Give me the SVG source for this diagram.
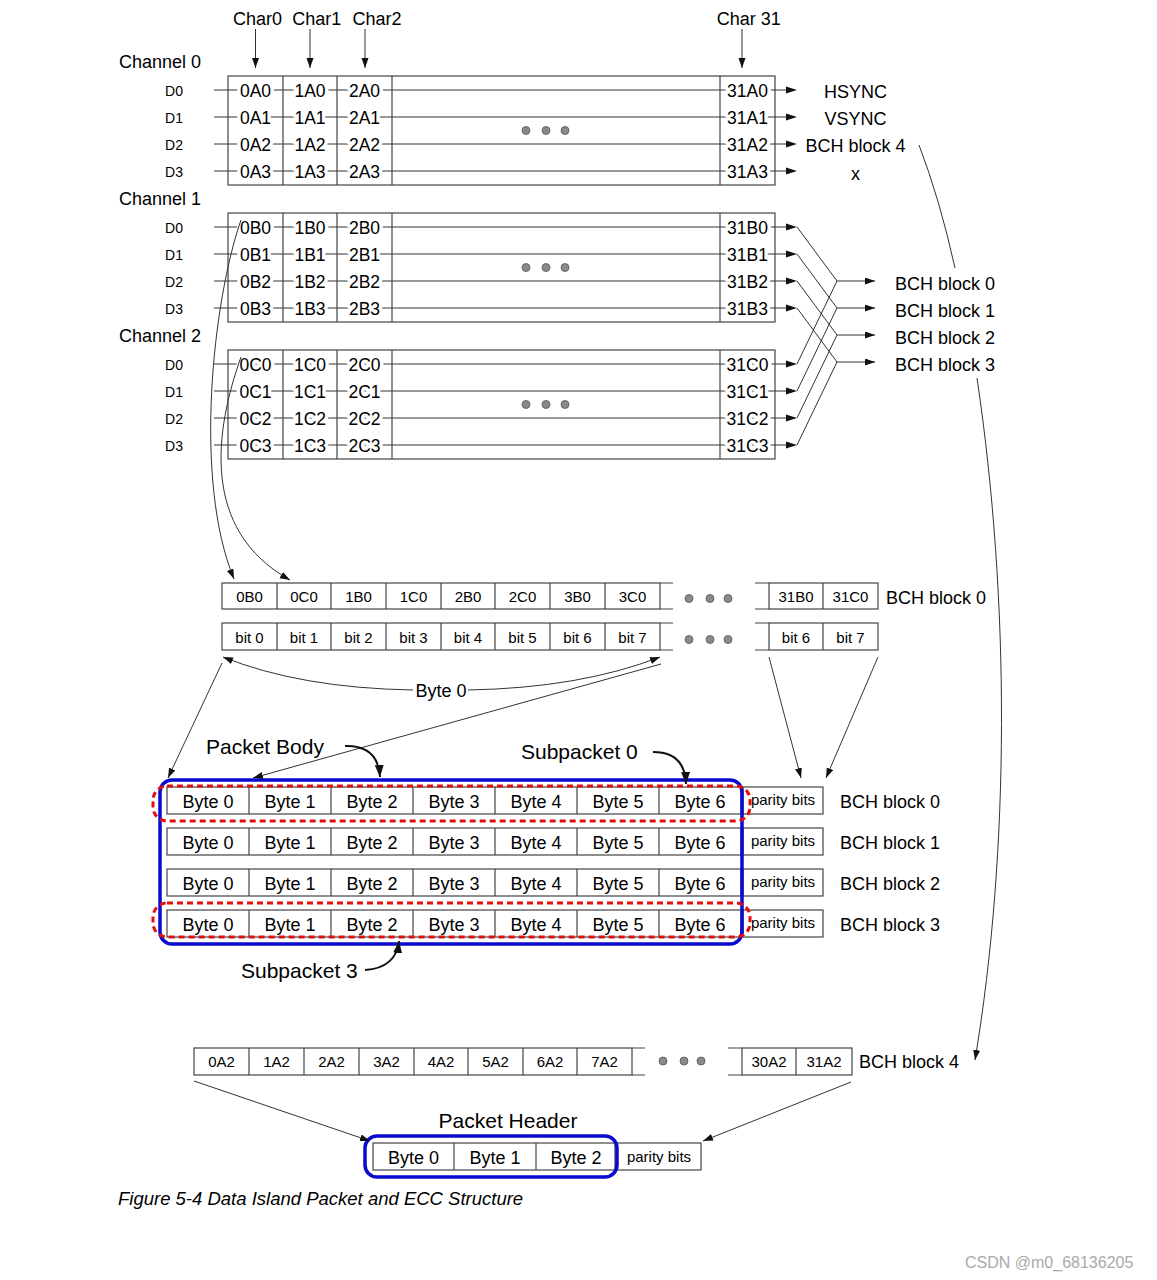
<svg xmlns="http://www.w3.org/2000/svg" width="1157" height="1280" viewBox="0 0 1157 1280">
<style>
.t{font-family:"Liberation Sans",Arial,Helvetica,sans-serif;fill:#000}
.f14{font-size:14px}.f15{font-size:15px}.f17{font-size:17.5px}.f18{font-size:18px}.f21{font-size:21px}
.m{text-anchor:middle}
.halo{paint-order:stroke;stroke:#fff;stroke-width:7px;stroke-linejoin:round}
.ln{stroke:#333;stroke-width:1;fill:none}
.ahf{fill:#111;stroke:none}
.box{fill:#fff;stroke:#444;stroke-width:1.2}
.cl{stroke:#444;stroke-width:1.2;fill:none}
.dot{fill:#8a8a8a;stroke:#555;stroke-width:0.8}
.thick{stroke:#111;stroke-width:2;fill:none}
.blue{fill:none;stroke:#0a0ad0;stroke-width:3.5}
.red{fill:none;stroke:#e01010;stroke-width:3;stroke-dasharray:6 4}
</style>
<defs>
<marker id="ah" markerUnits="userSpaceOnUse" markerWidth="11" markerHeight="8" refX="10" refY="3.5" orient="auto"><path d="M0,0 L10,3.5 L0,7 z" fill="#111"/></marker>
<marker id="ahb" markerUnits="userSpaceOnUse" markerWidth="13" markerHeight="10" refX="12" refY="4.5" orient="auto"><path d="M0,0 L12,4.5 L0,9 z" fill="#111"/></marker>
</defs>
<rect width="1157" height="1280" fill="#fff"/>

<g id="char-labels">
<text class="t f18 m" x="257.5" y="25">Char0</text>
<text class="t f18 m" x="316.7" y="25">Char1</text>
<text class="t f18 m" x="377" y="25">Char2</text>
<text class="t f18 m" x="748.7" y="25">Char 31</text>
</g>

<g id="channel0">
<text class="t f18" x="119" y="68">Channel 0</text>
<rect class="box" x="228" y="76" width="547" height="109"/>
<path class="ln" d="M214,90H790M214,117H790M214,144H790M214,171H790" />
<path class="ahf" d="M786,86.5L797,90L786,93.5zM786,113.5L797,117L786,120.5zM786,140.5L797,144L786,147.5zM786,167.5L797,171L786,174.5z"/>
<path class="cl" d="M283,76V185M337,76V185M392,76V185M720,76V185"/>
<text class="t f14 m" x="174" y="96">D0</text><text class="t f14 m" x="174" y="123">D1</text><text class="t f14 m" x="174" y="150">D2</text><text class="t f14 m" x="174" y="177">D3</text>
<g class="t f17 m halo">
<text x="255.5" y="96.5">0A0</text><text x="310" y="96.5">1A0</text><text x="364.5" y="96.5">2A0</text><text x="747.5" y="96.5">31A0</text>
<text x="255.5" y="123.5">0A1</text><text x="310" y="123.5">1A1</text><text x="364.5" y="123.5">2A1</text><text x="747.5" y="123.5">31A1</text>
<text x="255.5" y="150.5">0A2</text><text x="310" y="150.5">1A2</text><text x="364.5" y="150.5">2A2</text><text x="747.5" y="150.5">31A2</text>
<text x="255.5" y="177.5">0A3</text><text x="310" y="177.5">1A3</text><text x="364.5" y="177.5">2A3</text><text x="747.5" y="177.5">31A3</text>
</g>
<circle class="dot" cx="526" cy="130.5" r="4"/><circle class="dot" cx="546" cy="130.5" r="4"/><circle class="dot" cx="565" cy="130.5" r="4"/>
<text class="t f18 m" x="855.5" y="97.5">HSYNC</text>
<text class="t f18 m" x="855.5" y="124.5">VSYNC</text>
<text class="t f18 m" x="855.5" y="152">BCH block 4</text>
<text class="t f18 m" x="855.5" y="180">x</text>
</g>

<g id="channel1">
<text class="t f18" x="119" y="205">Channel 1</text>
<rect class="box" x="228" y="213" width="547" height="109"/>
<path class="ln" d="M214,227H790M214,254H790M214,281H790M214,308H790"/>
<path class="ahf" d="M786,223.5L797,227L786,230.5zM786,250.5L797,254L786,257.5zM786,277.5L797,281L786,284.5zM786,304.5L797,308L786,311.5z"/>
<path class="cl" d="M283,213V322M337,213V322M392,213V322M720,213V322"/>
<text class="t f14 m" x="174" y="233">D0</text><text class="t f14 m" x="174" y="260">D1</text><text class="t f14 m" x="174" y="287">D2</text><text class="t f14 m" x="174" y="314">D3</text>
<g class="t f17 m halo">
<text x="255.5" y="233.5">0B0</text><text x="310" y="233.5">1B0</text><text x="364.5" y="233.5">2B0</text><text x="747.5" y="233.5">31B0</text>
<text x="255.5" y="260.5">0B1</text><text x="310" y="260.5">1B1</text><text x="364.5" y="260.5">2B1</text><text x="747.5" y="260.5">31B1</text>
<text x="255.5" y="287.5">0B2</text><text x="310" y="287.5">1B2</text><text x="364.5" y="287.5">2B2</text><text x="747.5" y="287.5">31B2</text>
<text x="255.5" y="314.5">0B3</text><text x="310" y="314.5">1B3</text><text x="364.5" y="314.5">2B3</text><text x="747.5" y="314.5">31B3</text>
</g>
<circle class="dot" cx="526" cy="267.5" r="4"/><circle class="dot" cx="546" cy="267.5" r="4"/><circle class="dot" cx="565" cy="267.5" r="4"/>
</g>

<g id="channel2">
<text class="t f18" x="119" y="342">Channel 2</text>
<rect class="box" x="228" y="350" width="547" height="109"/>
<path class="ln" d="M214,364H790M214,391H790M214,418H790M214,445H790"/>
<path class="ahf" d="M786,360.5L797,364L786,367.5zM786,387.5L797,391L786,394.5zM786,414.5L797,418L786,421.5zM786,441.5L797,445L786,448.5z"/>
<path class="cl" d="M283,350V459M337,350V459M392,350V459M720,350V459"/>
<text class="t f14 m" x="174" y="370">D0</text><text class="t f14 m" x="174" y="397">D1</text><text class="t f14 m" x="174" y="424">D2</text><text class="t f14 m" x="174" y="451">D3</text>
<g class="t f17 m halo">
<text x="255.5" y="370.5">0C0</text><text x="310" y="370.5">1C0</text><text x="364.5" y="370.5">2C0</text><text x="747.5" y="370.5">31C0</text>
<text x="255.5" y="397.5">0C1</text><text x="310" y="397.5">1C1</text><text x="364.5" y="397.5">2C1</text><text x="747.5" y="397.5">31C1</text>
<text x="255.5" y="424.5">0C2</text><text x="310" y="424.5">1C2</text><text x="364.5" y="424.5">2C2</text><text x="747.5" y="424.5">31C2</text>
<text x="255.5" y="451.5">0C3</text><text x="310" y="451.5">1C3</text><text x="364.5" y="451.5">2C3</text><text x="747.5" y="451.5">31C3</text>
</g>
<circle class="dot" cx="526" cy="404.5" r="4"/><circle class="dot" cx="546" cy="404.5" r="4"/><circle class="dot" cx="565" cy="404.5" r="4"/>
</g>

<g id="bch-outputs">
<text class="t f18" x="895" y="290">BCH block 0</text>
<text class="t f18" x="895" y="317">BCH block 1</text>
<text class="t f18" x="895" y="344">BCH block 2</text>
<text class="t f18" x="895" y="371">BCH block 3</text>
</g>

<g id="bch0-bytes">
<rect class="box" x="222" y="583" width="438" height="26"/>
<path class="cl" d="M277,583V609M331,583V609M386,583V609M441,583V609M495,583V609M550,583V609M605,583V609M660,583H673M660,609H673M755,583H769M755,609H769"/>
<rect class="box" x="769" y="583" width="109" height="26"/>
<path class="cl" d="M823,583V609"/>
<g class="t f15 m">
<text x="249.5" y="601.5">0B0</text><text x="304" y="601.5">0C0</text><text x="358.5" y="601.5">1B0</text><text x="413.5" y="601.5">1C0</text><text x="468" y="601.5">2B0</text><text x="522.5" y="601.5">2C0</text><text x="577.5" y="601.5">3B0</text><text x="632.5" y="601.5">3C0</text><text x="796" y="601.5">31B0</text><text x="850.5" y="601.5">31C0</text>
</g>
<circle class="dot" cx="689" cy="598.5" r="4"/><circle class="dot" cx="710" cy="598.5" r="4"/><circle class="dot" cx="728" cy="598.5" r="4"/>
<text class="t f18" x="886" y="604">BCH block 0</text>
</g>

<g id="bch0-bits">
<rect class="box" x="222" y="623" width="438" height="27"/>
<path class="cl" d="M277,623V650M331,623V650M386,623V650M441,623V650M495,623V650M550,623V650M605,623V650M660,623H673M660,650H673M755,623H769M755,650H769"/>
<rect class="box" x="769" y="623" width="109" height="27"/>
<path class="cl" d="M823,623V650"/>
<g class="t f15 m">
<text x="249.5" y="643">bit 0</text><text x="304" y="643">bit 1</text><text x="358.5" y="643">bit 2</text><text x="413.5" y="643">bit 3</text><text x="468" y="643">bit 4</text><text x="522.5" y="643">bit 5</text><text x="577.5" y="643">bit 6</text><text x="632.5" y="643">bit 7</text><text x="796" y="643">bit 6</text><text x="850.5" y="643">bit 7</text>
</g>
<circle class="dot" cx="689" cy="639.5" r="4"/><circle class="dot" cx="710" cy="639.5" r="4"/><circle class="dot" cx="728" cy="639.5" r="4"/>
<text class="t f18 m" x="441" y="697">Byte 0</text>
</g>

<g id="packet-body">
<text class="t f21" x="206" y="754">Packet Body</text>
<text class="t f21" x="521" y="759">Subpacket 0</text>
<text class="t f21" x="241" y="978">Subpacket 3</text>
<g id="body-rows">
<rect class="box" x="167" y="787" width="574" height="27"/>
<rect class="box" x="167" y="828" width="574" height="27"/>
<rect class="box" x="167" y="869" width="574" height="27"/>
<rect class="box" x="167" y="910" width="574" height="27"/>
<path class="cl" d="M249,787V814M331,787V814M413,787V814M495,787V814M577,787V814M659,787V814M249,828V855M331,828V855M413,828V855M495,828V855M577,828V855M659,828V855M249,869V896M331,869V896M413,869V896M495,869V896M577,869V896M659,869V896M249,910V937M331,910V937M413,910V937M495,910V937M577,910V937M659,910V937"/>
<rect class="box" x="743" y="787" width="80" height="27"/>
<rect class="box" x="743" y="828" width="80" height="27"/>
<rect class="box" x="743" y="869" width="80" height="27"/>
<rect class="box" x="743" y="910" width="80" height="27"/>
<g class="t f18 m">
<text x="208" y="808">Byte 0</text><text x="290" y="808">Byte 1</text><text x="372" y="808">Byte 2</text><text x="454" y="808">Byte 3</text><text x="536" y="808">Byte 4</text><text x="618" y="808">Byte 5</text><text x="700" y="808">Byte 6</text>
<text x="208" y="849">Byte 0</text><text x="290" y="849">Byte 1</text><text x="372" y="849">Byte 2</text><text x="454" y="849">Byte 3</text><text x="536" y="849">Byte 4</text><text x="618" y="849">Byte 5</text><text x="700" y="849">Byte 6</text>
<text x="208" y="890">Byte 0</text><text x="290" y="890">Byte 1</text><text x="372" y="890">Byte 2</text><text x="454" y="890">Byte 3</text><text x="536" y="890">Byte 4</text><text x="618" y="890">Byte 5</text><text x="700" y="890">Byte 6</text>
<text x="208" y="931">Byte 0</text><text x="290" y="931">Byte 1</text><text x="372" y="931">Byte 2</text><text x="454" y="931">Byte 3</text><text x="536" y="931">Byte 4</text><text x="618" y="931">Byte 5</text><text x="700" y="931">Byte 6</text>
</g>
<g class="t f15 m">
<text x="783" y="805">parity bits</text><text x="783" y="846">parity bits</text><text x="783" y="887">parity bits</text><text x="783" y="928">parity bits</text>
</g>
<g class="t f18">
<text x="840" y="808">BCH block 0</text><text x="840" y="849">BCH block 1</text><text x="840" y="890">BCH block 2</text><text x="840" y="931">BCH block 3</text>
</g>
</g>
<rect class="blue" x="160" y="780" width="582" height="164" rx="12"/>
<rect class="red" x="153" y="786" width="597" height="35" rx="14"/>
<rect class="red" x="153" y="903" width="597" height="34" rx="14"/>
</g>

<g id="bch4-row">
<rect class="box" x="194" y="1048" width="438" height="27"/>
<path class="cl" d="M249,1048V1075M304,1048V1075M359,1048V1075M414,1048V1075M468,1048V1075M523,1048V1075M577,1048V1075M632,1048H645M632,1075H645M728,1048H742M728,1075H742"/>
<rect class="box" x="742" y="1048" width="110" height="27"/>
<path class="cl" d="M796,1048V1075"/>
<g class="t f15 m">
<text x="221.5" y="1066.5">0A2</text><text x="276.5" y="1066.5">1A2</text><text x="331.5" y="1066.5">2A2</text><text x="386.5" y="1066.5">3A2</text><text x="441" y="1066.5">4A2</text><text x="495.5" y="1066.5">5A2</text><text x="550" y="1066.5">6A2</text><text x="604.5" y="1066.5">7A2</text><text x="769" y="1066.5">30A2</text><text x="824" y="1066.5">31A2</text>
</g>
<circle class="dot" cx="663" cy="1061" r="4"/><circle class="dot" cx="684" cy="1061" r="4"/><circle class="dot" cx="701" cy="1061" r="4"/>
<text class="t f18" x="859" y="1068">BCH block 4</text>
</g>

<g id="packet-header">
<text class="t f21 m" x="508" y="1128">Packet Header</text>
<rect class="box" x="373" y="1143" width="242" height="27"/>
<path class="cl" d="M454,1143V1170M536,1143V1170"/>
<rect class="box" x="616" y="1143" width="85" height="27"/>
<g class="t f18 m"><text x="413.5" y="1163.5">Byte 0</text><text x="495" y="1163.5">Byte 1</text><text x="576" y="1163.5">Byte 2</text></g>
<text class="t f15 m" x="659" y="1162">parity bits</text>
<rect class="blue" x="365" y="1136" width="252" height="41" rx="12"/>
</g>

<g id="connectors">
<path class="ln" d="M255.5,29V68" marker-end="url(#ah)"/>
<path class="ln" d="M310,29V68" marker-end="url(#ah)"/>
<path class="ln" d="M365,29V68" marker-end="url(#ah)"/>
<path class="ln" d="M742,29V68" marker-end="url(#ah)"/>
<path class="ln" d="M797,227L837,281M797,254L837,308M797,281L837,335M797,308L837,362M797,364L837,281M797,391L837,308M797,418L837,335M797,445L837,362"/>
<path class="ln" d="M837,281H875" marker-end="url(#ah)"/>
<path class="ln" d="M837,308H875" marker-end="url(#ah)"/>
<path class="ln" d="M837,335H875" marker-end="url(#ah)"/>
<path class="ln" d="M837,362H875" marker-end="url(#ah)"/>
<path class="ln" d="M919,145Q940,200 955,268"/>
<path class="ln" d="M977,378C1010,600 1010,850 975,1060" marker-end="url(#ah)"/>
<path class="ln" d="M241,220C213,300 193,480 234,579" marker-end="url(#ah)"/>
<path class="ln" d="M241,357C215,430 200,530 290,580" marker-end="url(#ah)"/>
<path class="ln" d="M413,690Q300,688 223,657" marker-end="url(#ah)"/>
<path class="ln" d="M468,690Q580,688 660,657" marker-end="url(#ah)"/>
<path class="ln" d="M661,664L253,778" marker-end="url(#ah)"/>
<path class="ln" d="M222,663L168,778" marker-end="url(#ah)"/>
<path class="ln" d="M769,657L801,778" marker-end="url(#ah)"/>
<path class="ln" d="M878,657L826,778" marker-end="url(#ah)"/>
<path class="thick" d="M345,746Q378,745 380,777" marker-end="url(#ahb)"/>
<path class="thick" d="M653,752Q685,752 686,784" marker-end="url(#ahb)"/>
<path class="thick" d="M365,970Q396,968 399,941" marker-end="url(#ahb)"/>
<path class="ln" d="M194,1081L370,1141" marker-end="url(#ah)"/>
<path class="ln" d="M851,1082L703,1141" marker-end="url(#ah)"/>
</g>

<text class="t" x="118" y="1205" font-size="18.5px" font-style="italic">Figure 5-4 Data Island Packet and ECC Structure</text>
<text class="t" x="965" y="1268" font-size="16px" style="fill:#aaa">CSDN @m0_68136205</text>
</svg>
